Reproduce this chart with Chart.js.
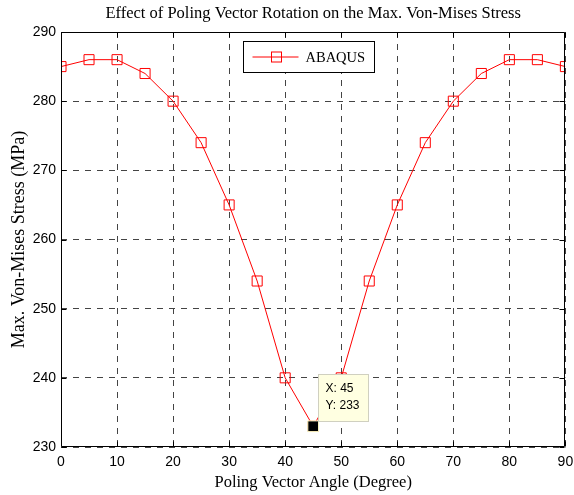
<!DOCTYPE html>
<html>
<head>
<meta charset="utf-8">
<script src="https://cdn.jsdelivr.net/npm/chart.js@4.4.0/dist/chart.umd.min.js"></script>
<style>
html,body{margin:0;padding:0;background:#fff;}
canvas{display:block;}
</style>
</head>
<body>
<canvas id="c" width="574" height="495"></canvas>
<script>
const angles = [0, 5, 10, 15, 20, 25, 30, 35, 40, 45, 50, 55, 60, 65, 70, 75, 80, 85, 90];
const stress = [285, 286, 286, 284, 280, 274, 265, 254, 240, 233, 240, 254, 265, 274, 280, 284, 286, 286, 285];
const seriesName = 'ABAQUS';
const titleText = 'Effect of Poling Vector Rotation on the Max. Von-Mises Stress';
const xTitle = 'Poling Vector Angle (Degree)';
const yTitle = 'Max. Von-Mises Stress (MPa)';
const tipIndex = 9;
const tipPoint = [{x: angles[tipIndex], y: stress[tipIndex]}];

const serif = 'Liberation Serif, Times New Roman, serif';
const sans = 'Liberation Sans, Arial, sans-serif';

const boxPlugin = {
  id: 'boxPlugin',
  afterDatasetsDraw(chart) {
    const {ctx, chartArea: a, scales: {x, y}} = chart;
    ctx.save();
    ctx.strokeStyle = '#000';
    ctx.lineWidth = 1;
    ctx.setLineDash([]);
    ctx.beginPath();
    const L = Math.round(a.left) + 0.5, R = Math.round(a.right) - 0.5;
    const T = Math.round(a.top) + 0.5, B = Math.round(a.bottom) - 0.5;
    ctx.rect(L, T, R - L, B - T);
    const tl = 5;
    x.ticks.forEach(t => {
      const px = Math.round(x.getPixelForValue(t.value)) + 0.5;
      ctx.moveTo(px, B); ctx.lineTo(px, B - tl);
      ctx.moveTo(px, T); ctx.lineTo(px, T + tl);
    });
    y.ticks.forEach(t => {
      const py = Math.round(y.getPixelForValue(t.value)) + 0.5;
      ctx.moveTo(L, py); ctx.lineTo(L + tl, py);
      ctx.moveTo(R, py); ctx.lineTo(R - tl, py);
    });
    ctx.stroke();
    ctx.restore();
  },
  afterDraw(chart) {
    const {ctx, chartArea: a, scales: {x, y}} = chart;
    ctx.save();
    // title, centred on the plot area
    ctx.fillStyle = '#000';
    ctx.font = '16.5px ' + serif;
    ctx.textAlign = 'center';
    ctx.textBaseline = 'middle';
    ctx.fillText(titleText, (a.left + a.right) / 2, 14);
    // datatip
    const px = x.getPixelForValue(tipPoint[0].x);
    const py = y.getPixelForValue(tipPoint[0].y);
    const bl = Math.round(px + 5) + 0.5, bb = Math.round(py - 5) + 0.5;
    const bw = 50, bh = 47;
    ctx.fillStyle = '#ffffe1';
    ctx.strokeStyle = '#d0d0c0';
    ctx.lineWidth = 1;
    ctx.fillRect(bl, bb - bh, bw, bh);
    ctx.strokeRect(bl, bb - bh, bw, bh);
    ctx.fillStyle = '#000';
    ctx.font = '12px ' + sans;
    ctx.textAlign = 'left';
    ctx.fillText('X: ' + tipPoint[0].x, bl + 7, bb - bh + 14);
    ctx.fillText('Y: ' + tipPoint[0].y, bl + 7, bb - bh + 31);
    // legend
    const lx = Math.round(a.left + 182) + 0.5, ly = Math.round(a.top + 9) + 0.5;
    const lw = 131, lh = 31;
    ctx.fillStyle = '#fff';
    ctx.fillRect(lx, ly, lw, lh);
    ctx.strokeStyle = '#000';
    ctx.strokeRect(lx, ly, lw, lh);
    const cy = ly + lh / 2;
    ctx.strokeStyle = '#ff0000';
    ctx.beginPath();
    ctx.moveTo(lx + 9, cy); ctx.lineTo(lx + 55, cy);
    ctx.stroke();
    ctx.strokeRect(lx + 28, cy - 5, 10, 10);
    ctx.fillStyle = '#000';
    ctx.font = '14.5px ' + serif;
    ctx.fillText(chart.data.datasets[0].label, lx + 62, cy + 1);
    ctx.restore();
  }
};

new Chart(document.getElementById('c'), {
  type: 'line',
  data: {
    datasets: [
      {
        label: seriesName,
        data: angles.map((a, i) => ({x: a, y: stress[i]})),
        borderColor: '#ff0000',
        borderWidth: 1,
        backgroundColor: 'rgba(0,0,0,0)',
        pointStyle: 'rect',
        pointRadius: 7.1,
        pointBorderWidth: 1,
        pointBorderColor: '#ff0000',
        pointBackgroundColor: 'rgba(0,0,0,0)',
        tension: 0,
        order: 1
      },
      {
        label: 'datatip',
        data: tipPoint,
        showLine: false,
        pointStyle: 'rect',
        pointRadius: 7.6,
        pointBorderWidth: 1,
        pointBorderColor: '#ffffc8',
        pointBackgroundColor: '#000',
        order: 0
      }
    ]
  },
  options: {
    responsive: false,
    devicePixelRatio: 1,
    animation: false,
    events: [],
    layout: {padding: {left: 0, right: 8, top: 32, bottom: 0}},
    plugins: {
      legend: {display: false},
      tooltip: {enabled: false},
      title: {display: false}
    },
    scales: {
      x: {
        type: 'linear',
        min: 0, max: 90,
        afterFit: s => { s.height = 48; s.paddingRight = 0; s.paddingLeft = 0; },
        ticks: {stepSize: 10, color: '#000', font: {family: sans, size: 14}, padding: 7, maxRotation: 0},
        grid: {color: '#444', lineWidth: 1, drawTicks: false},
        border: {display: false, dash: [6, 6]},
        title: {display: true, text: xTitle, color: '#000', font: {family: serif, size: 16.5}, padding: {top: 0, bottom: 2.1}}
      },
      y: {
        min: 230, max: 290,
        afterFit: s => { s.width = 61; s.paddingTop = 0; s.paddingBottom = 0; },
        ticks: {stepSize: 10, color: '#000', font: {family: sans, size: 14}, padding: 5},
        grid: {color: '#444', lineWidth: 1, drawTicks: false},
        border: {display: false, dash: [6, 6]},
        title: {display: true, text: yTitle, color: '#000', font: {family: serif, size: 18}, padding: {top: 8.2, bottom: 0}}
      }
    }
  },
  plugins: [boxPlugin]
});
</script>
</body>
</html>
